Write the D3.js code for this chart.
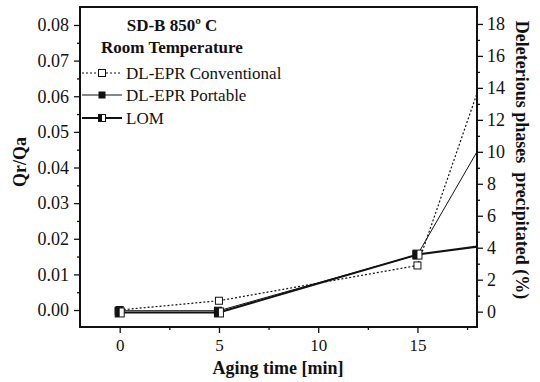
<!DOCTYPE html>
<html><head><meta charset="utf-8">
<script src="https://cdn.jsdelivr.net/npm/d3@7"></script>
<style>body{margin:0;background:#fff}svg{display:block}text{font-family:"Liberation Serif","Times New Roman",serif;fill:#111}</style>
</head><body>
<svg id="c" width="540" height="382"></svg>
<script>
const agingTime = [0, 5, 15, 20];
const convQrQa = [0.0, 0.0026, 0.0125, 0.093];
const portQrQa = [-0.0002, -0.0002, 0.0155, 0.0637];
const lomTime = [0, 5, 15, 20];
const lomPct = [-0.05, -0.05, 3.57, 4.4];
const xTicks = [0, 5, 10, 15];
const leftTicks = [0, 0.01, 0.02, 0.03, 0.04, 0.05, 0.06, 0.07, 0.08];
const rightTicks = [0, 2, 4, 6, 8, 10, 12, 14, 16, 18];
const seriesNames = ["DL-EPR Conventional", "DL-EPR Portable", "LOM"];

const svg = d3.select("#c");
const L = 80, R = 477, T = 7, B = 327;
const x = d3.scaleLinear().domain([-2, 18]).range([L, R]);
const yL = d3.scaleLinear().domain([-0.00477, 0.08505]).range([B, T]);
const yR = d3.scaleLinear().domain([-0.96, 19.06]).range([B, T]);

svg.append("defs").append("clipPath").attr("id","clip").append("rect")
  .attr("x", L).attr("y", T).attr("width", R-L).attr("height", B-T);

const ax = svg.append("g").attr("transform", `translate(0,${B})`)
  .call(d3.axisBottom(x).tickValues(xTicks).tickSize(6).tickPadding(6).tickFormat(d3.format("d")));
svg.append("g").attr("transform", `translate(0,${B})`)
  .call(d3.axisBottom(x).tickValues([2.5,7.5,12.5,17.5]).tickSize(3).tickFormat(""));
const al = svg.append("g").attr("transform", `translate(${L},0)`)
  .call(d3.axisLeft(yL).tickValues(leftTicks).tickSize(6).tickPadding(5).tickFormat(d3.format(".2f")));
svg.append("g").attr("transform", `translate(${L},0)`)
  .call(d3.axisLeft(yL).tickValues([0.005,0.015,0.025,0.035,0.045,0.055,0.065,0.075]).tickSize(3).tickFormat(""));
const ar = svg.append("g").attr("transform", `translate(${R},0)`)
  .call(d3.axisRight(yR).tickValues(rightTicks).tickSize(6).tickPadding(4).tickFormat(d3.format("d")));
svg.append("g").attr("transform", `translate(${R},0)`)
  .call(d3.axisRight(yR).tickValues([1,3,5,7,9,11,13,15,17]).tickSize(3).tickFormat(""));
svg.selectAll(".domain").remove();
svg.selectAll("g").attr("font-family", null).attr("font-size", null);
svg.selectAll(".tick line").attr("stroke","#111").attr("stroke-width",1.3);
ax.selectAll("text").style("font-size","17px").attr("fill","#111");
al.selectAll("text").style("font-size","18px").attr("fill","#111");
ar.selectAll("text").style("font-size","18px").attr("fill","#111");

svg.append("rect").attr("x",L).attr("y",T).attr("width",R-L).attr("height",B-T)
  .attr("fill","none").attr("stroke","#111").attr("stroke-width",2);

const g = svg.append("g").attr("clip-path","url(#clip)");
const convData = agingTime.map((t,i)=>[x(t), yL(convQrQa[i])]);
const portData = agingTime.map((t,i)=>[x(t), yL(portQrQa[i])]);
const lomData = lomTime.map((t,i)=>[x(t), yR(lomPct[i])]);
const line = d3.line();
g.append("path").attr("d", line(convData)).attr("fill","none").attr("stroke","#111").attr("stroke-width",1.2).attr("stroke-dasharray","2,2");
g.append("path").attr("d", line(portData)).attr("fill","none").attr("stroke","#111").attr("stroke-width",1);
g.append("path").attr("d", line(lomData)).attr("fill","none").attr("stroke","#111").attr("stroke-width",2);

function openSq(sel, cx, cy, s){ sel.append("rect").attr("x",cx-s/2).attr("y",cy-s/2).attr("width",s).attr("height",s).attr("fill","#fff").attr("stroke","#111").attr("stroke-width",1); }
function fillSq(sel, cx, cy, s){ sel.append("rect").attr("x",cx-s/2).attr("y",cy-s/2).attr("width",s).attr("height",s).attr("fill","#111").attr("stroke","#111").attr("stroke-width",1); }
function halfSq(sel, cx, cy, s){
  sel.append("rect").attr("x",cx-s/2).attr("y",cy-s/2).attr("width",s).attr("height",s).attr("fill","#fff").attr("stroke","#111").attr("stroke-width",1);
  sel.append("rect").attr("x",cx-s/2).attr("y",cy-s/2).attr("width",s/2).attr("height",s).attr("fill","#111");
}
convData.forEach(p=>openSq(g,p[0],p[1],7));
portData.forEach(p=>fillSq(g,p[0]-1,p[1],7));
lomData.slice(0,3).forEach(p=>halfSq(g,p[0],p[1],9));

const leg = svg.append("g");
const ly = [73, 95, 118];
const lx0 = 82, lx1 = 122, lm = 102;
leg.append("line").attr("x1",lx0).attr("x2",lx1).attr("y1",ly[0]).attr("y2",ly[0]).attr("stroke","#111").attr("stroke-width",1.2).attr("stroke-dasharray","2,2");
openSq(leg, lm, ly[0], 7);
leg.append("line").attr("x1",lx0).attr("x2",lx1).attr("y1",ly[1]).attr("y2",ly[1]).attr("stroke","#111").attr("stroke-width",1);
fillSq(leg, lm, ly[1], 6);
leg.append("line").attr("x1",lx0).attr("x2",lx1).attr("y1",ly[2]).attr("y2",ly[2]).attr("stroke","#111").attr("stroke-width",2);
halfSq(leg, lm, ly[2], 7);
seriesNames.forEach((n,i)=>leg.append("text").attr("x",126).attr("y",ly[i]+6).style("font-size","17px").text(n));

svg.append("text").attr("x",172).attr("y",31).attr("text-anchor","middle").style("font-size","17px").style("font-weight","bold").text("SD-B 850º C");
svg.append("text").attr("x",101).attr("y",53).style("font-size","17px").style("font-weight","bold").text("Room Temperature");
svg.append("text").attr("x",278).attr("y",374).attr("text-anchor","middle").style("font-size","18px").style("font-weight","bold").text("Aging time [min]");
svg.append("text").attr("transform","translate(26,162) rotate(-90)").attr("text-anchor","middle").style("font-size","18px").style("font-weight","bold").text("Qr/Qa");
svg.append("text").attr("transform","translate(516,160) rotate(90)").attr("text-anchor","middle").style("font-size","18px").style("font-weight","bold").style("white-space","pre").text("Deleterious phases  precipitated (%)");
</script>
</body></html>
